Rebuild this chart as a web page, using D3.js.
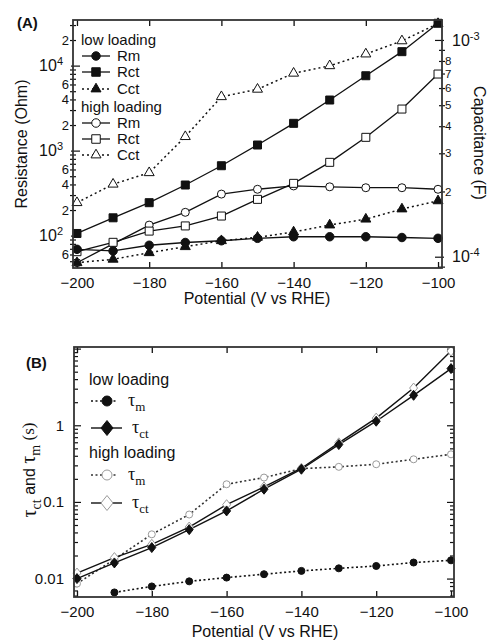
<!DOCTYPE html>
<html><head><meta charset="utf-8">
<script src="https://cdn.jsdelivr.net/npm/d3@7"></script>
<style>
body{margin:0;background:#fff}
svg{display:block}
text{font-family:Arial,"Liberation Sans",sans-serif;fill:#111}
.serif{font-family:"Times New Roman","Liberation Serif",serif}
</style>
</head><body>
<svg id="c" width="489" height="643"></svg>
<script>
// ---------------- DATA ----------------
const potentials = [-200,-190,-180,-170,-160,-150,-140,-130,-120,-110,-100];
const xTickLabels = [-200,-180,-160,-140,-120,-100];
// Panel A (Resistance in Ohm, Capacitance in F)
const lowRm   = [69, 66, 77, 83, 87, 93, 97, 97, 97, 95, 93];
const lowRct  = [106, 162, 244, 394, 664, 1164, 2094, 3937, 7600, 14590, 31480];
const lowCct  = [9.38e-5, 9.73e-5, 1.043e-4, 1.112e-4, 1.185e-4, 1.229e-4, 1.30e-4, 1.40e-4, 1.49e-4, 1.66e-4, 1.81e-4];
const highRm  = [48, 80, 133, 188, 308, 351, 384, 375, 366, 366, 351];
const highRct = [64.7, 83.4, 113, 130, 170, 267, 412, 728, 1433, 3083, 7960];
const highCct = [1.775e-4, 2.16e-4, 2.44e-4, 3.58e-4, 5.47e-4, 5.92e-4, 7.02e-4, 7.6e-4, 8.61e-4, 9.9e-4, 1.19e-3];
// Panel B (time constants in s)
const lowTauM   = [null, 0.0066, 0.0079, 0.0092, 0.0103, 0.0114, 0.0126, 0.0136, 0.0146, 0.0162, 0.0173];
const lowTauCt  = [0.0100, 0.0160, 0.0254, 0.0435, 0.0763, 0.1466, 0.267, 0.56, 1.13, 2.46, 5.49];
const highTauM  = [0.0086, 0.0178, 0.0378, 0.0685, 0.170, 0.208, 0.272, 0.287, 0.31, 0.36, 0.418];
const highTauCt = [0.0118, 0.0188, 0.028, 0.047, 0.092, 0.157, 0.275, 0.59, 1.24, 3.06, 9.3];
// Tick label sets
const resLabeledMinor = [2, 4, 6];
const capLabeledMinor = [2, 3, 4, 5, 6, 7, 8];
const tauLabels = [0.01, 0.1, 1];

// ---------------- HELPERS ----------------
const svg = d3.select('#c');
const INK = '#111';
const GRAY = '#9a9a9a';

function symPath(type, s) {
  const h = s / 2;
  if (type === 'circle') return d3.symbol(d3.symbolCircle, Math.PI * h * h)();
  if (type === 'square') return `M${-h},${-h}H${h}V${h}H${-h}Z`;
  if (type === 'triangle') {
    const th = s * 0.866;
    return `M0,${-th * 2 / 3}L${h},${th / 3}L${-h},${th / 3}Z`;
  }
  if (type === 'diamond') return `M0,${-h}L${h * 0.8},0L0,${h}L${-h * 0.8},0Z`;
}
function isDecade(v) {
  const l = Math.log10(v);
  return Math.abs(l - Math.round(l)) < 1e-6;
}
function firstDigit(v) {
  return Math.round(v / Math.pow(10, Math.floor(Math.log10(v) + 1e-9)));
}
function series(g, x, y, vals, o) {
  const pts = potentials.map((p, i) => ({x: p, y: vals[i]})).filter(d => d.y != null);
  const line = d3.line().x(d => x(d.x)).y(d => y(d.y));
  g.append('path').datum(pts).attr('d', line).attr('fill', 'none')
    .attr('stroke', o.lineColor || INK).attr('stroke-width', o.lw || 1.3)
    .attr('stroke-dasharray', o.dash || null);
  return pts;
}
function markers(g, x, y, pts, o) {
  g.selectAll(null).data(pts).join('path')
    .attr('transform', d => `translate(${x(d.x)},${y(d.y)})`)
    .attr('d', symPath(o.type, o.size))
    .attr('fill', o.fill).attr('stroke', o.stroke).attr('stroke-width', o.sw || 1);
}

// ================= PANEL A =================
const A = {l: 73, r: 442, t: 20, b: 268};
const xA = d3.scaleLinear().domain([-201.1, -98.9]).range([A.l, A.r]);
const yR = d3.scaleLog().domain([41.6, 34400]).range([A.b, A.t]);
const yC = d3.scaleLog().domain([8.87e-5, 1.236e-3]).range([A.b, A.t]);
const gA = svg.append('g');

const axBA = gA.append('g').attr('transform', `translate(0,${A.b})`)
  .call(d3.axisBottom(xA).tickValues(xTickLabels).tickSizeInner(-6).tickSizeOuter(0).tickPadding(9).tickFormat(d3.format('d')));
axBA.select('.domain').remove();
axBA.selectAll('text').attr('font-size', 15).attr('fill', INK);
axBA.selectAll('line').attr('stroke', INK).attr('stroke-width', 1.3);
const axTA = gA.append('g').attr('transform', `translate(0,${A.t})`)
  .call(d3.axisTop(xA).tickValues(xTickLabels).tickSizeInner(-6).tickSizeOuter(0).tickFormat(''));
axTA.select('.domain').remove();
axTA.selectAll('line').attr('stroke', INK).attr('stroke-width', 1.3);

// left (resistance) axis
const resTicks = yR.ticks().filter(v => v >= 41.6 && v <= 34400);
const axLA = gA.append('g').attr('transform', `translate(${A.l},0)`)
  .call(d3.axisLeft(yR).tickValues(resTicks).tickSizeOuter(0).tickFormat(''));
axLA.select('.domain').remove();
axLA.selectAll('.tick').each(function(d) {
  const t = d3.select(this);
  const maj = isDecade(d);
  t.select('line').attr('x1', maj ? -2 : -3).attr('x2', maj ? 7 : 3).attr('stroke', INK).attr('stroke-width', 1.2);
  const txt = t.select('text').attr('fill', INK);
  if (maj) {
    txt.attr('x', -10).attr('dy', '0.32em').attr('font-size', 16).text('10');
    txt.append('tspan').attr('dy', '-0.55em').attr('font-size', 11).text(Math.round(Math.log10(d)));
  } else if (resLabeledMinor.includes(firstDigit(d))) {
    txt.attr('x', -4).attr('dy', '0.32em').attr('font-size', 13).text(firstDigit(d));
  }
});

// right (capacitance) axis
const capTicks = yC.ticks().filter(v => v >= 8.87e-5 && v <= 1.236e-3);
const axRA = gA.append('g').attr('transform', `translate(${A.r},0)`)
  .call(d3.axisRight(yC).tickValues(capTicks).tickSizeOuter(0).tickFormat(''));
axRA.select('.domain').remove();
axRA.selectAll('.tick').each(function(d) {
  const t = d3.select(this);
  const maj = isDecade(d);
  t.select('line').attr('x1', maj ? -7 : -3).attr('x2', maj ? 2 : 3).attr('stroke', INK).attr('stroke-width', 1.2);
  const txt = t.select('text').attr('fill', INK).attr('text-anchor', 'start');
  if (maj) {
    txt.attr('x', 10).attr('dy', '0.32em').attr('font-size', 16).text('10');
    txt.append('tspan').attr('dy', '-0.55em').attr('font-size', 11).text(Math.round(Math.log10(d)));
  } else if (capLabeledMinor.includes(firstDigit(d))) {
    txt.attr('x', 3).attr('dy', '0.32em').attr('font-size', 11.5).text(firstDigit(d));
  }
});

// series A
const dotA = '2,3';
const pLowCct = series(gA, xA, yC, lowCct, {dash: dotA, lw: 1.5});
const pHighCct = series(gA, xA, yC, highCct, {dash: dotA, lw: 1.5});
const pLowRm = series(gA, xA, yR, lowRm, {});
const pLowRct = series(gA, xA, yR, lowRct, {});
const pHighRm = series(gA, xA, yR, highRm, {});
const pHighRct = series(gA, xA, yR, highRct, {});
markers(gA, xA, yC, pHighCct, {type: 'triangle', size: 10, fill: '#fff', stroke: INK});
markers(gA, xA, yR, pHighRm, {type: 'circle', size: 8, fill: '#fff', stroke: INK});
markers(gA, xA, yR, pHighRct, {type: 'square', size: 8, fill: '#fff', stroke: INK});
markers(gA, xA, yC, pLowCct, {type: 'triangle', size: 10, fill: INK, stroke: INK});
markers(gA, xA, yR, pLowRm, {type: 'circle', size: 8.5, fill: INK, stroke: INK});
markers(gA, xA, yR, pLowRct, {type: 'square', size: 8, fill: INK, stroke: INK});

gA.append('rect').attr('x', A.l).attr('y', A.t).attr('width', A.r - A.l).attr('height', A.b - A.t)
  .attr('fill', 'none').attr('stroke', '#333').attr('stroke-width', 1.8);

// legend A
const legA = [
  {head: 'low loading', y: 40},
  {label: 'Rm', type: 'circle', fill: INK, y: 56},
  {label: 'Rct', type: 'square', fill: INK, y: 72},
  {label: 'Cct', type: 'triangle', fill: INK, dash: dotA, y: 89},
  {head: 'high loading', y: 107},
  {label: 'Rm', type: 'circle', fill: '#fff', y: 123},
  {label: 'Rct', type: 'square', fill: '#fff', y: 139},
  {label: 'Cct', type: 'triangle', fill: '#fff', dash: dotA, y: 155}
];
legA.forEach(e => {
  if (e.head) {
    gA.append('text').attr('x', 81).attr('y', e.y).attr('dy', '0.35em').attr('font-size', 15).text(e.head);
    return;
  }
  gA.append('line').attr('x1', 82).attr('x2', 110).attr('y1', e.y).attr('y2', e.y)
    .attr('stroke', INK).attr('stroke-width', e.dash ? 1.5 : 1.3).attr('stroke-dasharray', e.dash || null);
  gA.append('path').attr('transform', `translate(96,${e.y})`)
    .attr('d', symPath(e.type, e.type === 'triangle' ? 10 : 8.5)).attr('fill', e.fill).attr('stroke', INK);
  gA.append('text').attr('x', 117).attr('y', e.y).attr('dy', '0.35em').attr('font-size', 15).text(e.label);
});

gA.append('text').attr('x', 17).attr('y', 28).attr('font-size', 15).attr('font-weight', 'bold').text('(A)');
gA.append('text').attr('x', 257).attr('y', 304).attr('text-anchor', 'middle').attr('font-size', 16).text('Potential (V vs RHE)');
gA.append('text').attr('transform', 'translate(27,144) rotate(-90)').attr('text-anchor', 'middle').attr('font-size', 16).text('Resistance (Ohm)');
gA.append('text').attr('transform', 'translate(474,143) rotate(90)').attr('text-anchor', 'middle').attr('font-size', 16).text('Capacitance (F)');

// ================= PANEL B =================
const B = {l: 74, r: 454, t: 347, b: 597};
const xB = d3.scaleLinear().domain([-200.8, -99.2]).range([B.l, B.r]);
const yT = d3.scaleLog().domain([0.00575, 10.5]).range([B.b, B.t]);
const gB = svg.append('g');

const axBB = gB.append('g').attr('transform', `translate(0,${B.b})`)
  .call(d3.axisBottom(xB).tickValues(xTickLabels).tickSizeInner(-6).tickSizeOuter(0).tickPadding(9).tickFormat(d3.format('d')));
axBB.select('.domain').remove();
axBB.selectAll('text').attr('font-size', 15).attr('fill', INK);
axBB.selectAll('line').attr('stroke', INK).attr('stroke-width', 1.3);
const axTB = gB.append('g').attr('transform', `translate(0,${B.t})`)
  .call(d3.axisTop(xB).tickValues(xTickLabels).tickSizeInner(-6).tickSizeOuter(0).tickFormat(''));
axTB.select('.domain').remove();
axTB.selectAll('line').attr('stroke', INK).attr('stroke-width', 1.3);

const tauTicks = yT.ticks().filter(v => v >= 0.00575 && v <= 10.5);
const axLB = gB.append('g').attr('transform', `translate(${B.l},0)`)
  .call(d3.axisLeft(yT).tickValues(tauTicks).tickSizeOuter(0).tickFormat(''));
axLB.select('.domain').remove();
axLB.selectAll('.tick').each(function(d) {
  const t = d3.select(this);
  const maj = isDecade(d);
  t.select('line').attr('x1', 0).attr('x2', maj ? 7 : 4).attr('stroke', INK).attr('stroke-width', 1.2);
  const lab = tauLabels.find(v => Math.abs(v - d) / v < 1e-6);
  t.select('text').attr('x', -10).attr('dy', '0.32em').attr('font-size', 15).attr('fill', INK)
    .text(lab !== undefined ? String(lab) : '');
});
const axRB = gB.append('g').attr('transform', `translate(${B.r},0)`)
  .call(d3.axisRight(yT).tickValues(tauTicks).tickSizeOuter(0).tickFormat(''));
axRB.select('.domain').remove();
axRB.selectAll('.tick').each(function(d) {
  const maj = isDecade(d);
  d3.select(this).select('line').attr('x1', 0).attr('x2', maj ? -7 : -4).attr('stroke', INK).attr('stroke-width', 1.2);
});

const dotB = '2,2.5';
const pLowTauM = series(gB, xB, yT, lowTauM, {dash: dotB, lw: 1.6});
const pHighTauM = series(gB, xB, yT, highTauM, {dash: dotB, lw: 1.6, lineColor: '#333'});
const pHighTauCt = series(gB, xB, yT, highTauCt, {lw: 1.4});
const pLowTauCt = series(gB, xB, yT, lowTauCt, {lw: 1.4});
markers(gB, xB, yT, pHighTauM, {type: 'circle', size: 7, fill: '#fff', stroke: GRAY});
markers(gB, xB, yT, pHighTauCt, {type: 'diamond', size: 10, fill: '#fff', stroke: GRAY});
markers(gB, xB, yT, pLowTauM, {type: 'circle', size: 7, fill: INK, stroke: INK});
markers(gB, xB, yT, pLowTauCt, {type: 'diamond', size: 10, fill: INK, stroke: INK});

gB.append('rect').attr('x', B.l).attr('y', B.t).attr('width', B.r - B.l).attr('height', B.b - B.t)
  .attr('fill', 'none').attr('stroke', '#333').attr('stroke-width', 1.8);

// legend B
const legB = [
  {head: 'low loading', y: 379},
  {sub: 'm', type: 'circle', fill: INK, stroke: INK, dash: dotB, y: 401, lc: INK},
  {sub: 'ct', type: 'diamond', fill: INK, stroke: INK, y: 428, lc: INK},
  {head: 'high loading', y: 452},
  {sub: 'm', type: 'circle', fill: '#fff', stroke: GRAY, dash: dotB, y: 475, lc: '#333'},
  {sub: 'ct', type: 'diamond', fill: '#fff', stroke: GRAY, y: 503, lc: INK}
];
legB.forEach(e => {
  if (e.head) {
    gB.append('text').attr('x', 89).attr('y', e.y).attr('dy', '0.35em').attr('font-size', 16).text(e.head);
    return;
  }
  const x2 = e.dash ? 117 : 122;
  gB.append('line').attr('x1', 91).attr('x2', x2).attr('y1', e.y).attr('y2', e.y)
    .attr('stroke', e.lc).attr('stroke-width', e.dash ? 1.6 : 1.4).attr('stroke-dasharray', e.dash || null);
  gB.append('path').attr('transform', `translate(107,${e.y})`)
    .attr('d', symPath(e.type, e.type === 'diamond' ? 15 : 10)).attr('fill', e.fill).attr('stroke', e.stroke);
  const t = gB.append('text').attr('class', 'serif').attr('x', e.dash ? 128 : 132).attr('y', e.y).attr('dy', '0.3em').attr('font-size', 18);
  t.append('tspan').text('τ');
  t.append('tspan').attr('dy', '0.35em').attr('font-size', 13).text(e.sub);
});

gB.append('text').attr('x', 26).attr('y', 368).attr('font-size', 15).attr('font-weight', 'bold').text('(B)');
gB.append('text').attr('x', 265).attr('y', 637).attr('text-anchor', 'middle').attr('font-size', 16).text('Potential (V vs RHE)');
const yl = gB.append('text').attr('transform', 'translate(36,470) rotate(-90)').attr('text-anchor', 'middle').attr('font-size', 20);
yl.append('tspan').attr('class', 'serif').text('τ');
yl.append('tspan').attr('class', 'serif').attr('font-size', 14).attr('dy', '0.35em').text('ct');
yl.append('tspan').attr('dy', '-0.35em').attr('font-size', 16).text(' and ');
yl.append('tspan').attr('class', 'serif').text('τ');
yl.append('tspan').attr('class', 'serif').attr('font-size', 14).attr('dy', '0.35em').text('m');
yl.append('tspan').attr('class', 'serif').attr('dy', '-0.35em').attr('font-size', 17).text(' (s)');
</script>
</body></html>
